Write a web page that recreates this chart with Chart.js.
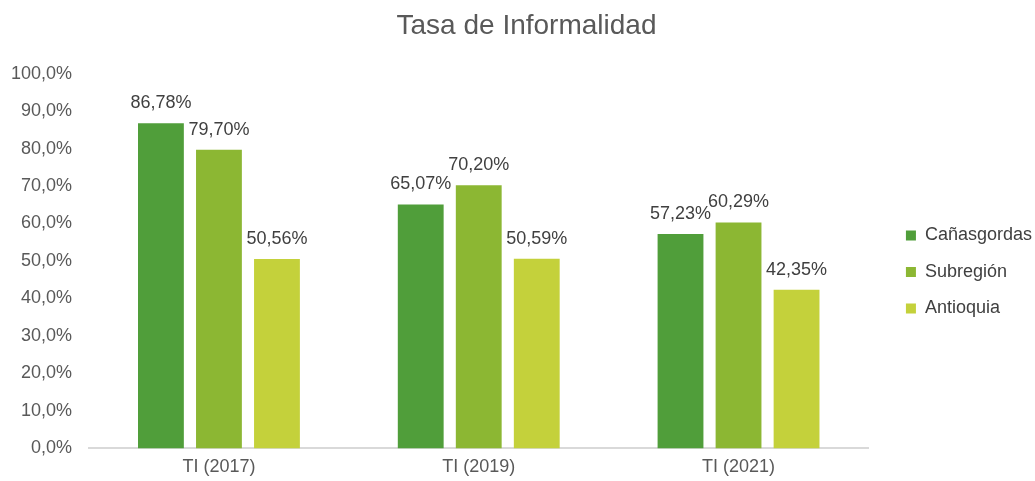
<!DOCTYPE html>
<html>
<head>
<meta charset="utf-8">
<script src="https://cdn.jsdelivr.net/npm/chart.js@4.4.1/dist/chart.umd.min.js"></script>
<style>
  body { margin: 0; background: #fff; }
</style>
</head>
<body>
<canvas id="informalidad" width="1035" height="481"></canvas>
<script>
var categories = ["TI (2017)", "TI (2019)", "TI (2021)"];
var canasgordas = [86.78, 65.07, 57.23];
var subregion = [79.70, 70.20, 60.29];
var antioquia = [50.56, 50.59, 42.35];
var seriesNames = ["Cañasgordas", "Subregión", "Antioquia"];
var barColors = ["#509e3a", "#8cb733", "#c4d13b"];

function pct(v, d) {
  return v.toFixed(d).replace(".", ",") + "%";
}

// labels on top of each bar
var barLabels = {
  id: "barLabels",
  afterDatasetsDraw: function(chart) {
    var ctx = chart.ctx;
    ctx.save();
    ctx.font = "18px 'Liberation Sans', Arial, sans-serif";
    ctx.fillStyle = "#404040";
    ctx.textAlign = "center";
    ctx.textBaseline = "bottom";
    chart.data.datasets.forEach(function(ds, i) {
      chart.getDatasetMeta(i).data.forEach(function(bar, j) {
        ctx.fillText(pct(ds.data[j], 2), bar.x, bar.y - 11);
      });
    });
    ctx.restore();
  }
};

// nudge legend and title a bit, like the excel one
var boxShift = {
  id: "boxShift",
  afterLayout: function(chart) {
    var lg = chart.legend;
    lg.left += 19; lg.right += 19;
    lg.top += 33; lg.bottom += 33;
    var t = chart.titleBlock;
    t.left += 14; t.right += 14;
  }
};

Chart.defaults.font.family = "'Liberation Sans', Arial, sans-serif";
Chart.defaults.color = "#595959";

var chart = new Chart("informalidad", {
  type: "bar",
  data: {
    labels: categories,
    datasets: [
      { label: seriesNames[0], data: canasgordas, backgroundColor: barColors[0] },
      { label: seriesNames[1], data: subregion, backgroundColor: barColors[1] },
      { label: seriesNames[2], data: antioquia, backgroundColor: barColors[2] }
    ]
  },
  options: {
    responsive: false,
    animation: false,
    categoryPercentage: 0.67,
    barPercentage: 0.79,
    layout: { padding: { left: 2, right: 12, bottom: 3 } },
    plugins: {
      title: {
        display: true,
        text: "Tasa de Informalidad",
        font: { size: 28, weight: "normal" },
        color: "#595959",
        padding: { top: 9, bottom: 31 }
      },
      legend: {
        position: "right",
        labels: {
          boxWidth: 10,
          boxHeight: 10,
          font: { size: 18 },
          color: "#404040",
          padding: 18.5
        }
      },
      tooltip: { enabled: false }
    },
    scales: {
      x: {
        grid: { display: false },
        border: { color: "#d9d9d9", width: 2 },
        ticks: { font: { size: 18 }, color: "#595959", padding: 0 }
      },
      y: {
        min: 0,
        max: 100,
        ticks: {
          stepSize: 10,
          font: { size: 18 },
          color: "#595959",
          padding: 9,
          callback: function(v) { return pct(v, 1); }
        },
        grid: { display: false },
        border: { display: false }
      }
    }
  },
  plugins: [barLabels, boxShift]
});
</script>
</body>
</html>
